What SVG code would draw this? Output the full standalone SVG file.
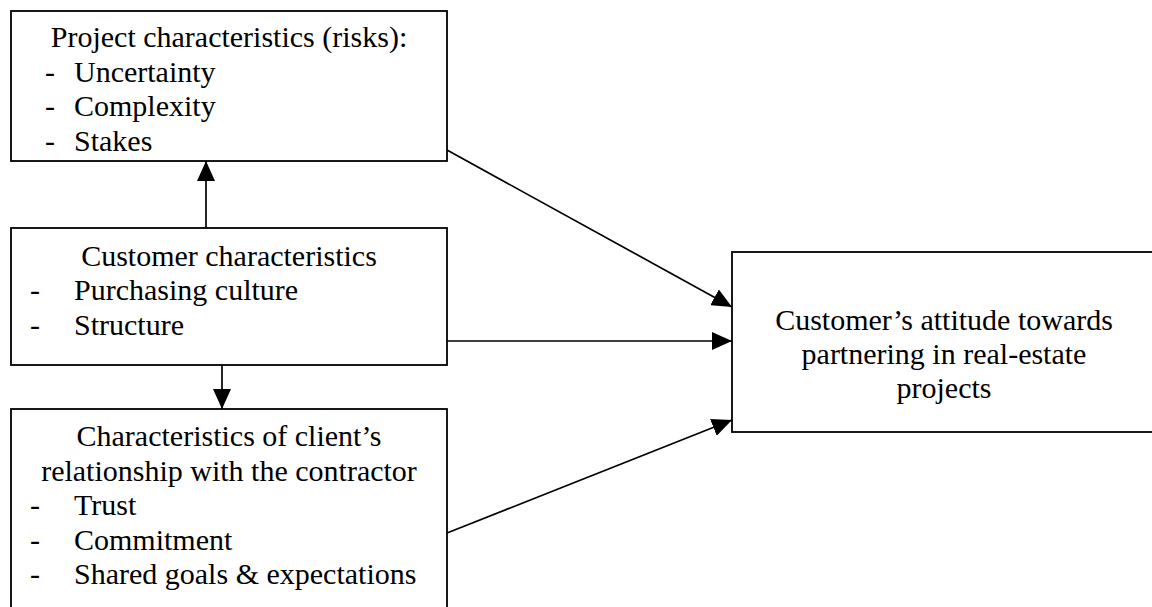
<svg xmlns="http://www.w3.org/2000/svg" width="1152" height="607" viewBox="0 0 1152 607">
<defs>
<style>
.box{fill:#fff;stroke:#000;stroke-width:1.8}
.t{font-size:30px;fill:#000}
.c{text-anchor:middle}
.ln{stroke:#000;stroke-width:1.7;fill:none;marker-end:url(#arr)}
</style>
<marker id="arr" markerUnits="userSpaceOnUse" markerWidth="20" markerHeight="18" refX="20" refY="9" orient="auto" viewBox="0 0 20 18">
<path d="M0,0 L20,9 L0,18 z" fill="#000"/>
</marker>
</defs>
<rect width="1152" height="607" fill="#fff"/>
<g id="connectors">
<line class="ln" x1="206" y1="228" x2="206" y2="161"/>
<line class="ln" x1="222" y1="365" x2="222" y2="409"/>
<line class="ln" x1="447" y1="150" x2="732" y2="307"/>
<line class="ln" x1="447" y1="341" x2="732" y2="341"/>
<line class="ln" x1="447" y1="533" x2="732" y2="420"/>
</g>
<g font-family="'Liberation Serif', 'Times New Roman', 'DejaVu Serif', serif">
<g id="project">
<rect class="box" x="11" y="11" width="436" height="150"/>
<text class="t c" x="229" y="47">Project characteristics (risks):</text>
<text class="t" x="45" y="81.5">-</text><text class="t" x="74" y="81.5">Uncertainty</text>
<text class="t" x="45" y="116">-</text><text class="t" x="74" y="116">Complexity</text>
<text class="t" x="45" y="150.5">-</text><text class="t" x="74" y="150.5">Stakes</text>
</g>
<g id="customer">
<rect class="box" x="11" y="228" width="436" height="137"/>
<text class="t c" x="229" y="266">Customer characteristics</text>
<text class="t" x="30" y="300">-</text><text class="t" x="74" y="300">Purchasing culture</text>
<text class="t" x="30" y="335">-</text><text class="t" x="74" y="335">Structure</text>
</g>
<g id="relationship">
<rect class="box" x="11" y="409" width="436" height="210"/>
<text class="t c" x="229" y="446">Characteristics of client’s</text>
<text class="t c" x="229" y="480.5">relationship with the contractor</text>
<text class="t" x="30" y="515">-</text><text class="t" x="74" y="515">Trust</text>
<text class="t" x="30" y="549.5">-</text><text class="t" x="74" y="549.5">Commitment</text>
<text class="t" x="30" y="584">-</text><text class="t" x="74" y="584">Shared goals &amp; expectations</text>
</g>
<g id="attitude">
<rect class="box" x="732" y="252" width="424" height="180"/>
<text class="t c" x="944" y="330">Customer’s attitude towards</text>
<text class="t c" x="944" y="364">partnering in real-estate</text>
<text class="t c" x="944" y="398">projects</text>
</g>
</g>
</svg>
